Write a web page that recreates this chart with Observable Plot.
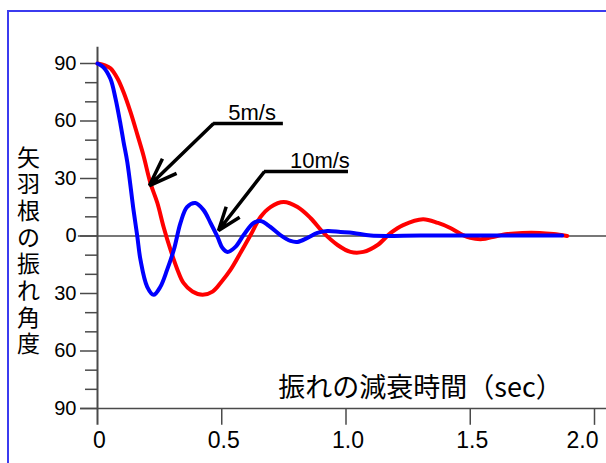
<!DOCTYPE html>
<html><head><meta charset="utf-8">
<script src="https://cdn.jsdelivr.net/npm/d3@7"></script>
<script src="https://cdn.jsdelivr.net/npm/@observablehq/plot@0.6"></script>
<style>
html,body{margin:0;padding:0;background:#fff;overflow:hidden;width:606px;height:463px}
#chart{position:absolute;left:0;top:0}
#frame{position:absolute;left:7px;top:10px;width:800px;height:600px;border-left:2px solid #3b3bef;border-top:2px solid #3b3bef;pointer-events:none}
</style></head>
<body><div id="chart"></div><div id="frame"></div>
<script>
// 5 m/s (red)
const t5 = [0, 0.03, 0.052, 0.08, 0.105, 0.133, 0.161, 0.185, 0.213, 0.241, 0.266, 0.294, 0.322, 0.346, 0.382, 0.423, 0.463, 0.495, 0.535, 0.575, 0.616, 0.656, 0.696, 0.749, 0.805, 0.857, 0.91, 0.966, 1.018, 1.07, 1.127, 1.18, 1.23, 1.31, 1.37, 1.42, 1.47, 1.5, 1.55, 1.59, 1.65, 1.71, 1.78, 1.835, 1.89];
const a5 = [90, 89, 87.5, 82.3, 75, 64.6, 52.6, 42, 27.6, 17.2, 4.7, -7.3, -17.7, -24.5, -29, -30.7, -29, -24.5, -17.7, -8.9, 0.5, 9.9, 15.1, 17.7, 15.1, 9.4, 1.6, -4.7, -8.3, -8.3, -4.7, 1.6, 5.7, 8.8, 6.8, 4.2, 0.5, -1, -1.6, -0.5, 1, 1.6, 1.6, 1, 0];
// 10 m/s (blue)
const t10 = [0, 0.024, 0.052, 0.072, 0.093, 0.105, 0.12, 0.145, 0.16, 0.173, 0.2, 0.226, 0.253, 0.28, 0.307, 0.334, 0.36, 0.394, 0.427, 0.455, 0.483, 0.503, 0.523, 0.555, 0.588, 0.628, 0.656, 0.696, 0.736, 0.777, 0.805, 0.845, 0.885, 0.925, 0.978, 1.03, 1.1, 1.3, 1.5, 1.7, 1.87];
const a10 = [90, 88, 82, 72, 58, 49, 38.5, 13.5, 0, -12.5, -26.5, -30.7, -26.5, -17.7, -7.3, 6.8, 15.1, 17.2, 13.5, 6.8, -0.5, -6.3, -8.3, -5.7, 0.5, 6.8, 7.8, 4.7, 0.5, -2.6, -3.1, -1, 1.6, 2.6, 2.1, 1.6, 0.2, 0.2, 0.2, 0.2, 0.2];

const xTicks = [0, 0.5, 1.0, 1.5, 2.0];
const yMajor = [-90, -60, -30, 0, 30, 60, 90];
const yMinor = [-80, -70, -50, -40, -20, -10, 10, 20, 40, 50, 70, 80];

const seriesLabels = ["5m/s", "10m/s"];
// annotation anchors (data units): label position, underline start/end, arrow tip
const labelT = [0.622, 0.895];
const labelA = [64.4, 38.9];
const lineStartT = [0.467, 0.672];
const lineEndT = [0.748, 1.010];
const lineA = [58.7, 33.65];
const tipT = [0.209, 0.487];
const tipA = [26.3, 2.87];

const yTitle = "矢羽根の振れ角度";
const xTitle = "振れの減衰時間（sec）";

const red = t5.map((t, i) => ({t, a: a5[i]}));
const blue = t10.map((t, i) => ({t, a: a10[i]}));
const ann = seriesLabels.map((s, i) => ({
  s, lt: labelT[i], la: labelA[i], x1: lineStartT[i], x2: lineEndT[i], ya: lineA[i], tt: tipT[i], ta: tipA[i]
}));

const font = "'Liberation Sans', Arial, 'Noto Sans CJK JP', sans-serif";
const cjk = "'Noto Sans CJK JP', sans-serif";
const axisColor = "#4a4a4a";

const chart = Plot.plot({
  width: 606,
  height: 463,
  marginLeft: 97,
  marginRight: 12,
  marginTop: 63,
  marginBottom: 55,
  style: {fontFamily: font, background: "transparent", overflow: "visible", color: "#000"},
  x: {domain: [0, 2], axis: null},
  y: {domain: [-90, 90], axis: null},
  marks: [
    // horizontal reference lines
    Plot.ruleY([-90], {x1: -0.068, x2: 2.06, stroke: axisColor, strokeWidth: 1.6}),
    Plot.ruleY([0], {x1: -0.077, x2: 2.06, stroke: axisColor, strokeWidth: 1.6}),
    // vertical axis line
    Plot.ruleX([0], {y1: -98.8, y2: 98.5, stroke: axisColor, strokeWidth: 2}),
    // y ticks
    Plot.axisY(yMinor, {tickSize: 12, tickFormat: () => "", stroke: axisColor, strokeWidth: 1.5, label: null}),
    Plot.axisY(yMajor, {tickSize: 17, tickFormat: () => "", stroke: axisColor, strokeWidth: 1.5, label: null}),
    Plot.text(yMajor, {x: 0, y: d => d, text: d => String(Math.abs(d)), dx: -21, textAnchor: "end", fontSize: 20, fill: "#000"}),
    // x ticks
    Plot.ruleX(xTicks.slice(1), {y1: -90, y2: -98.8, stroke: axisColor, strokeWidth: 1.5}),
    Plot.text(xTicks.slice(0, 4), {x: d => d, y: -90, text: d => d === 0 ? "0" : d.toFixed(1), dy: 32, dx: 2, fontSize: 23, fill: "#000"}),
    Plot.text(xTicks.slice(4), {x: d => d, y: -90, text: d => d.toFixed(1), dy: 32, dx: 4, textAnchor: "end", fontSize: 23, fill: "#000"}),
    // titles
    Plot.text([yTitle], {x: -0.278, y: -7.6, text: d => d.split("").join("\n"), lineHeight: 1.16, fontSize: 23, fill: "#000", fontFamily: cjk}),
    Plot.text([xTitle], {x: 1.30, y: -79.3, text: d => d, fontSize: 27, fill: "#000", fontFamily: cjk}),
    // curves
    Plot.line(red, {x: "t", y: "a", stroke: "#ff0000", strokeWidth: 4, curve: "catmull-rom"}),
    Plot.line(blue, {x: "t", y: "a", stroke: "#0000ff", strokeWidth: 4, curve: "catmull-rom"}),
    // annotations
    Plot.ruleY(ann, {y: "ya", x1: "x1", x2: "x2", stroke: "#000", strokeWidth: 3.5}),
    Plot.arrow(ann, {x1: "x1", y1: "ya", x2: "tt", y2: "ta", stroke: "#000", strokeWidth: 3.5, headAngle: 40, headLength: 13, strokeLinecap: "butt"}),
    Plot.text(ann, {x: "lt", y: "la", text: "s", fontSize: 22, fill: "#000"})
  ]
});
document.getElementById("chart").appendChild(chart);
</script>
</body></html>
